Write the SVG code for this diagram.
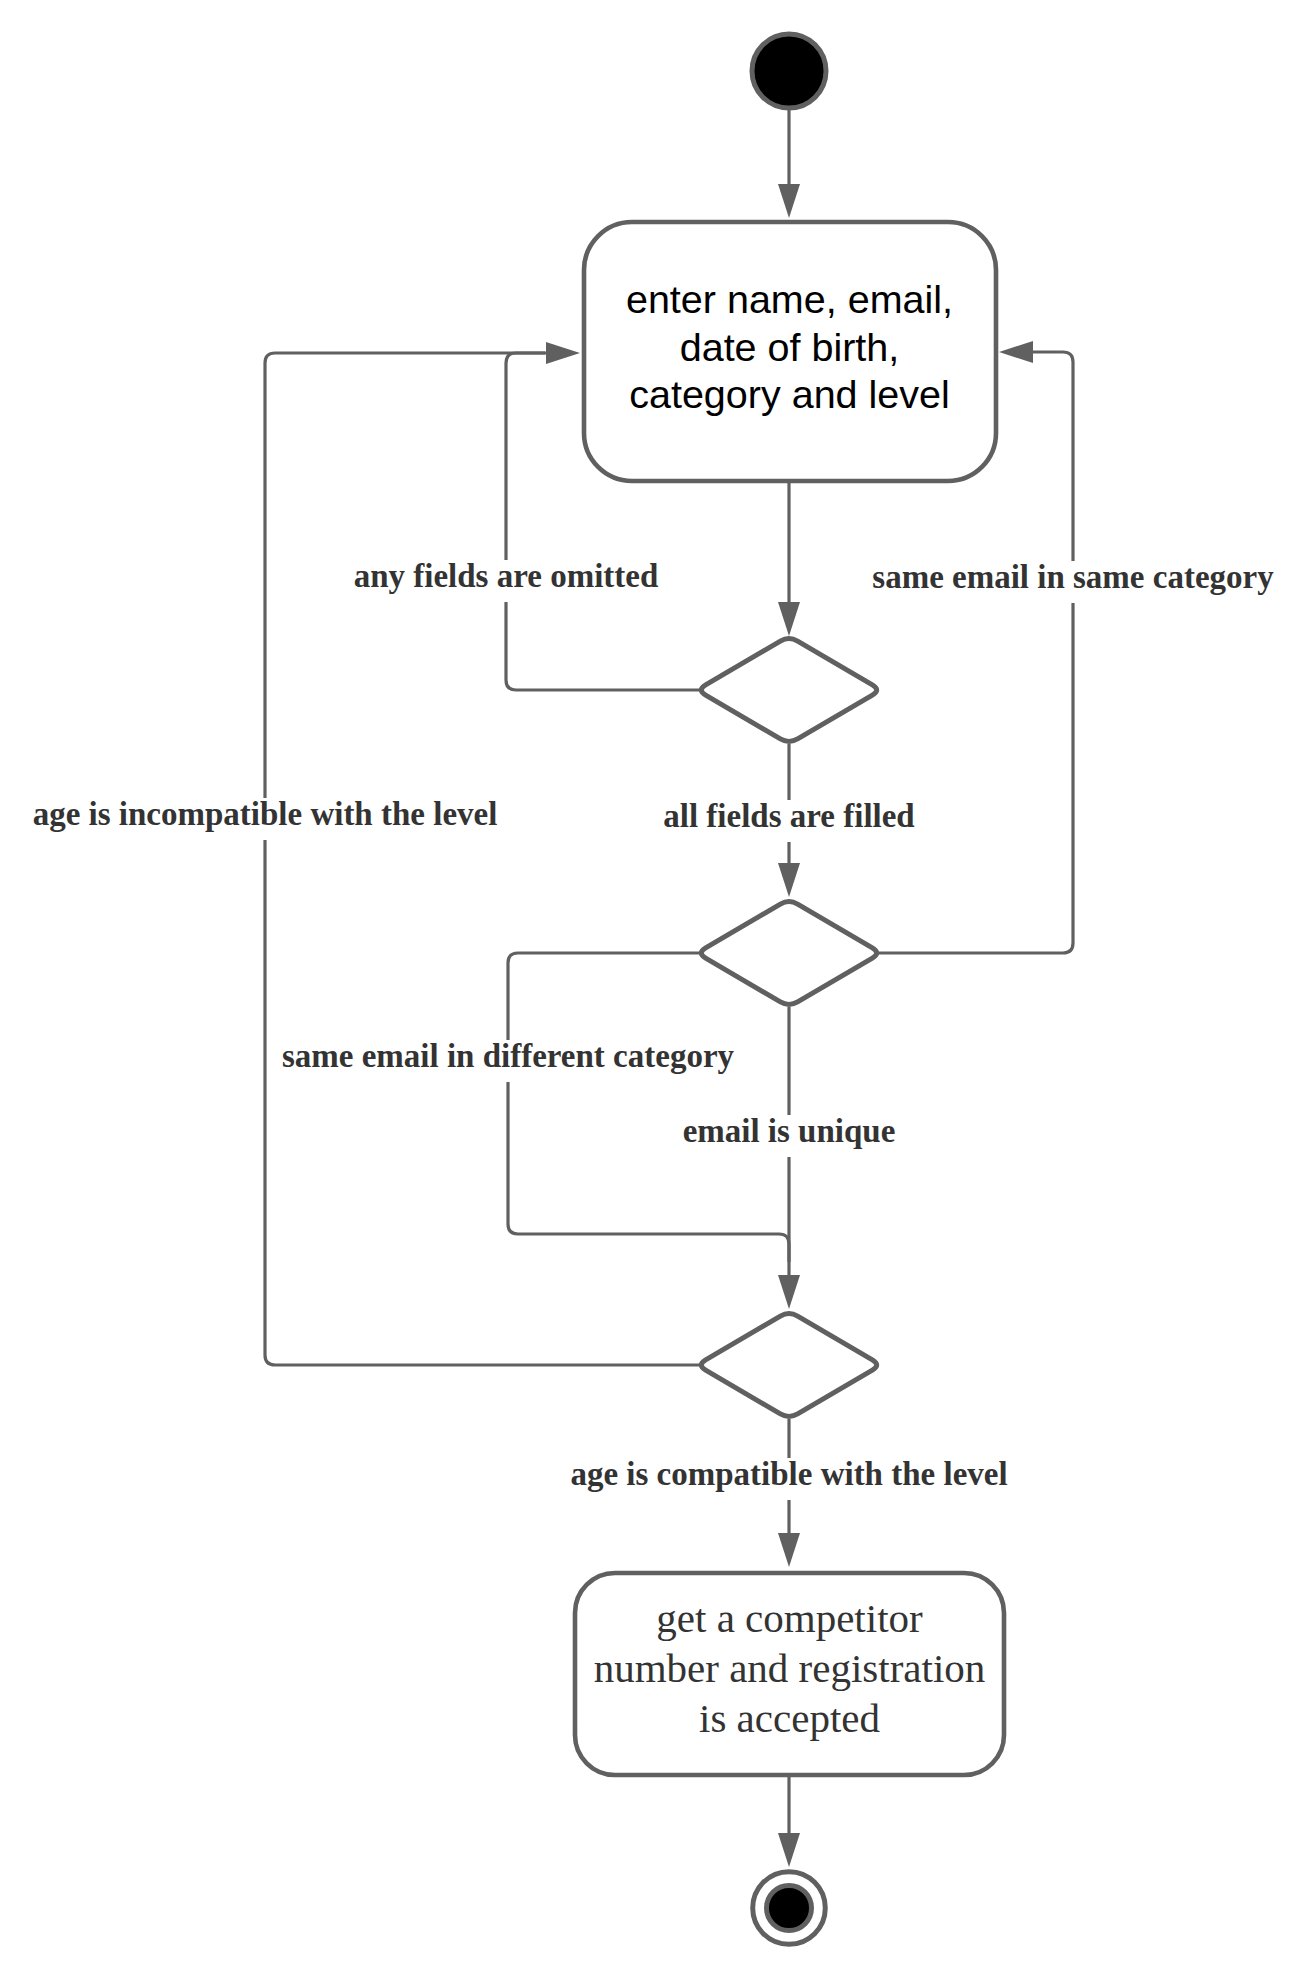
<svg xmlns="http://www.w3.org/2000/svg" width="1311" height="1976" viewBox="0 0 1311 1976">
<style>
.node{fill:#ffffff;stroke:#606060;stroke-width:4.6}
.edge{fill:none;stroke:#606060;stroke-width:3.2;stroke-linejoin:round}
.lbl{font-family:"Liberation Serif","Times New Roman",serif;font-weight:bold;font-size:33px;fill:#333333;text-anchor:middle}
.lblbg{fill:#ffffff}
.t1{font-family:"Liberation Sans",Arial,sans-serif;font-size:39.5px;fill:#000000;text-anchor:middle}
.t2{font-family:"Liberation Serif","Times New Roman",serif;font-size:41px;fill:#333333;text-anchor:middle}
</style>
<defs>
<marker id="arrow" markerUnits="userSpaceOnUse" markerWidth="34" markerHeight="22" refX="24" refY="11" orient="auto">
<path d="M0,0 L34,11 L0,22 Z" fill="#606060"/>
</marker>
<path id="dia" d="M-83.38,-5.06 L-8.62,-48.94 Q0,-54 8.62,-48.94 L83.38,-5.06 Q92,0 83.38,5.06 L8.62,48.94 Q0,54 -8.62,48.94 L-83.38,5.06 Q-92,0 -83.38,-5.06 Z"/>
</defs>
<rect width="1311" height="1976" fill="#ffffff"/>

<g id="connectors">
<path class="edge" d="M789,110 L789,208" marker-end="url(#arrow)"/>
<path class="edge" d="M789,483 L789,626" marker-end="url(#arrow)"/>
<path class="edge" d="M789,744 L789,887" marker-end="url(#arrow)"/>
<path class="edge" d="M789,1007 L789,1299" marker-end="url(#arrow)"/>
<path class="edge" d="M702,953 L518,953 Q508,953 508,963 L508,1224 Q508,1234 518,1234 L779,1234 Q789,1234 789,1244 L789,1262"/>
<path class="edge" d="M789,1419 L789,1557" marker-end="url(#arrow)"/>
<path class="edge" d="M789,1777 L789,1857" marker-end="url(#arrow)"/>
<path class="edge" d="M702,1365 L275,1365 Q265,1365 265,1355 L265,363 Q265,353 275,353 L570,353" marker-end="url(#arrow)"/>
<path class="edge" d="M702,690 L516,690 Q506,690 506,680 L506,363 Q506,353 516,353 L545,353"/>
<path class="edge" d="M876,953 L1063,953 Q1073,953 1073,943 L1073,362 Q1073,352 1063,352 L1009,352" marker-end="url(#arrow)"/>
<g id="labels">
<rect class="lblbg" x="353" y="560" width="306" height="42"/>
<text class="lbl" x="506" y="587">any fields are omitted</text>
<rect class="lblbg" x="872" y="561" width="402" height="42"/>
<text class="lbl" x="1073" y="588">same email in same category</text>
<rect class="lblbg" x="31" y="798" width="468" height="42"/>
<text class="lbl" x="265" y="825">age is incompatible with the level</text>
<rect class="lblbg" x="660" y="800" width="258" height="42"/>
<text class="lbl" x="789" y="827">all fields are filled</text>
<rect class="lblbg" x="281" y="1040" width="455" height="42"/>
<text class="lbl" x="508" y="1067">same email in different category</text>
<rect class="lblbg" x="680" y="1115" width="218" height="42"/>
<text class="lbl" x="789" y="1142">email is unique</text>
<rect class="lblbg" x="569" y="1458" width="442" height="42"/>
<text class="lbl" x="789" y="1485">age is compatible with the level</text>
</g>
</g>

<g id="start">
<circle cx="789" cy="71" r="37" fill="#000000" stroke="#606060" stroke-width="5"/>
</g>

<g id="enter-details">
<rect class="node" x="584" y="222" width="412" height="259" rx="48" ry="48"/>
<text class="t1" x="789.5" y="313">enter name, email,</text>
<text class="t1" x="789.5" y="361">date of birth,</text>
<text class="t1" x="789.5" y="408">category and level</text>
</g>

<g id="decision-fields">
<use href="#dia" class="node" x="789" y="690" style="stroke-width:5"/>
</g>

<g id="decision-email">
<use href="#dia" class="node" x="789" y="953" style="stroke-width:5"/>
</g>

<g id="decision-age">
<use href="#dia" class="node" x="789" y="1365" style="stroke-width:5"/>
</g>

<g id="accepted">
<rect class="node" x="575" y="1573" width="429" height="202" rx="40" ry="40"/>
<text class="t2" x="789.5" y="1632">get a competitor</text>
<text class="t2" x="789.5" y="1682">number and registration</text>
<text class="t2" x="789.5" y="1732">is accepted</text>
</g>

<g id="end">
<circle cx="789" cy="1908" r="36.3" fill="#ffffff" stroke="#606060" stroke-width="5"/>
<circle cx="789" cy="1908" r="22.5" fill="#000000" stroke="#606060" stroke-width="5"/>
</g>
</svg>
